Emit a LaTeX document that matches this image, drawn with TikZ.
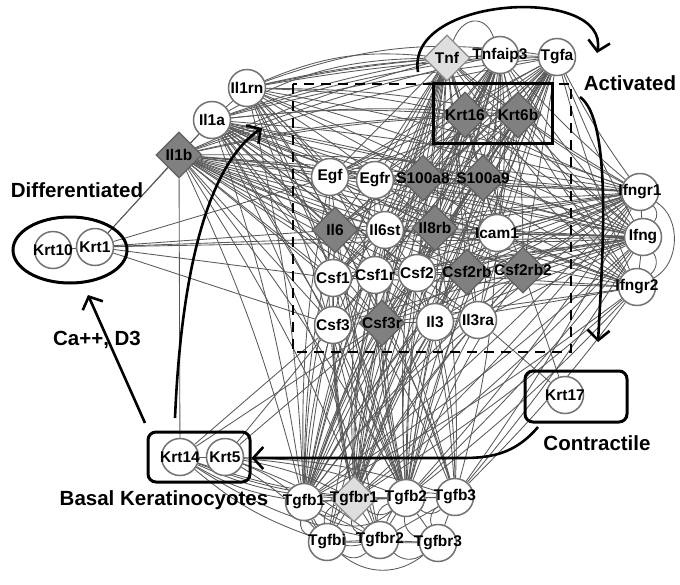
\documentclass[tikz,border=0pt]{standalone}
\usepackage{fontspec}
\setmainfont{Liberation Sans}
\usetikzlibrary{positioning, shapes.geometric, arrows.meta, backgrounds}

\tikzset{
  lbl/.style={font=\bfseries\fontsize{15.5}{15.5}\selectfont, inner sep=0pt},
  gene/.style={circle, draw=black!55, line width=1.5pt, fill=white, minimum size=37pt, inner sep=0pt, label={[lbl]center:#1}},
  dgene/.style={diamond, draw=black!62, line width=1.2pt, fill=black!50, minimum size=46pt, inner sep=0pt, label={[lbl]center:#1}},
  lgene/.style={diamond, draw=black!45, line width=1.2pt, fill=black!13, minimum size=46pt, inner sep=0pt, label={[lbl]center:#1}},
  edge/.style={draw=black!65, line width=0.85pt},
  bigtext/.style={font=\bfseries\fontsize{20.5}{22}\selectfont, inner sep=0pt},
  bigarrow/.style={line width=2.6pt, -{Straight Barb[length=10pt,width=22pt,line width=2.6pt]}},
  groupbox/.style={draw, line width=3pt, minimum width=#1}
}

\newcommand\corelist{egf,egfr,s100a8,s100a9,il6,il6st,il8rb,icam1,csf1,csf1r,csf2,csf2rb,csf2rb2,csf3,csf3r,il3,il3ra}

\begin{document}
\begin{tikzpicture}[x=1pt, y=-1pt]
\useasboundingbox (0,0) rectangle (680,584);

% top
\node[lgene=Tnf] (tnf) at (447,58) {};
\node[gene=Tnfaip3] (tnfaip3) at (500,55) {};
\node[gene=Tgfa] (tgfa) at (557,57) {};
\node[dgene=Krt16] (krt16) at (465,115) {};
\node[dgene=Krt6b] (krt6b) at (518,115) {};

% left
\node[gene=Il1rn] (il1rn) at (247,88) {};
\node[gene=Il1a] (il1a) at (212,120) {};
\node[dgene=Il1b] (il1b) at (179,155) {};

% core
\node[gene=Egf] (egf) at (330,177) {};
\node[gene=Egfr] (egfr) at (375,180) {};
\node[dgene=S100a8] (s100a8) at (423,178) {};
\node[dgene=S100a9] (s100a9) at (483,178) {};
\node[dgene=Il6] (il6) at (335,230) {};
\node[gene=Il6st] (il6st) at (385,230) {};
\node[dgene=Il8rb] (il8rb) at (435,228) {};
\node[gene=Icam1] (icam1) at (497,233) {};
\node[gene=Csf1] (csf1) at (333,278) {};
\node[gene=Csf1r] (csf1r) at (375,275) {};
\node[gene=Csf2] (csf2) at (417,273) {};
\node[dgene=Csf2rb] (csf2rb) at (467,272) {};
\node[dgene=Csf2rb2] (csf2rb2) at (523,270) {};
\node[gene=Csf3] (csf3) at (333,325) {};
\node[dgene=Csf3r] (csf3r) at (382,323) {};
\node[gene=Il3] (il3) at (435,322) {};
\node[gene=Il3ra] (il3ra) at (478,320) {};

% right
\node[gene=Ifngr1] (ifngr1) at (640,192) {};
\node[gene=Ifng] (ifng) at (643,237) {};
\node[gene=Ifngr2] (ifngr2) at (637,287) {};

% bottom
\node[gene=Tgfb1] (tgfb1) at (304,502) {};
\node[lgene=Tgfbr1] (tgfbr1) at (354,499) {};
\node[gene=Tgfb2] (tgfb2) at (406,498) {};
\node[gene=Tgfb3] (tgfb3) at (455,497) {};
\node[gene=Tgfbi] (tgfbi) at (327,542) {};
\node[gene=Tgfbr2] (tgfbr2) at (380,540) {};
\node[gene=Tgfbr3] (tgfbr3) at (438,543) {};

% keratins
\node[gene=Krt10] (krt10) at (53,250) {};
\node[gene=Krt1] (krt1) at (95,247) {};
\node[gene=Krt14] (krt14) at (180,457) {};
\node[gene=Krt5] (krt5) at (225,457) {};
\node[gene=Krt17] (krt17) at (565,395) {};

% groups
\draw[dashed, line width=1.8pt, dash pattern=on 10pt off 7pt] (293,84) rectangle (571,352);
\node[groupbox=119pt, minimum height=60pt] (actbox) at (492.5,113) {};
\node[groupbox=102pt, minimum height=50pt, rounded corners=8pt] (basbox) at (199,457) {};
\node[groupbox=102pt, minimum height=51pt, rounded corners=8pt] (conbox) at (576,396.5) {};
\node[ellipse, draw, line width=3pt, minimum width=114pt, minimum height=66pt] (difbox) at (70,250) {};

\node[bigtext] (diflabel) at (77,190) {Differentiated};
\node[bigtext] (actlabel) at (630,83) {Activated};
\node[bigtext] (calabel) at (97,340) {Ca++, D3};
\node[bigtext] (conlabel) at (597,443) {Contractile};
\node[bigtext] (baslabel) at (164,500) {Basal Keratinocyotes};

% interactions
\begin{scope}[on background layer]
  \foreach \a in {tnf,tgfa,il1b,il1a,ifng,ifngr1} {
    \foreach \b in \corelist {
      \draw[edge] (\a) -- (\b);
    }
  }
  \foreach \a in {tgfb1,tgfbr1,tgfb2,tnfaip3} {
    \foreach \b in \corelist {
      \draw[edge] (\a) to[bend left=6] (\b);
    }
  }
  \foreach \b in {egf,il6,csf1,csf2,il8rb,icam1,csf3r,il3} {
    \draw[edge] (il1rn) to[bend left=5] (\b);
    \draw[edge] (ifngr2) -- (\b);
    \draw[edge] (tgfb3) to[bend right=6] (\b);
    \draw[edge] (krt16) -- (\b);
    \draw[edge] (krt6b) -- (\b);
  }
  \foreach \a in {tnf,tgfa,tnfaip3} {
    \foreach \b in {il1rn,il1a,il1b,ifng,ifngr1,ifngr2,krt16,krt6b,tgfb1,tgfbr1,tgfb2,tgfbi} {
      \draw[edge] (\a) to[bend right=4] (\b);
    }
  }
  \foreach \a in {il1b,il1a,il1rn} {
    \foreach \b in {ifng,ifngr1,ifngr2,krt16,krt6b,tgfb1,tgfb2,tgfbr2} {
      \draw[edge] (\a) to[bend left=5] (\b);
    }
  }
  \foreach \a in {ifng,ifngr1,ifngr2} {
    \foreach \b in {tgfb1,tgfbr1,tgfb2,tgfb3,krt16,krt6b} {
      \draw[edge] (\a) to[bend left=4] (\b);
    }
  }
  \foreach \a/\b in {tnf/il1rn,tnf/il1a,tgfa/il1rn,il1b/ifng,il1a/ifngr1} {
    \draw[edge] (\a) to[bend right=14] (\b);
  }
  \foreach \a/\b in {tgfb1/tgfbr1,tgfbr1/tgfb2,tgfb2/tgfb3,tgfbi/tgfbr2,tgfbr2/tgfbr3,tgfb1/tgfbi,tgfbr1/tgfbr2,tgfb2/tgfbr3,tgfb3/tgfbr3,tgfb1/tgfbr2,tgfbr1/tgfbi,tgfb2/tgfbr2,tgfb1/tgfb2,tgfbi/tgfbr3,tgfb3/tgfbr2} {
    \draw[edge] (\a) -- (\b);
    \draw[edge] (\a) to[bend right=40] (\b);
  }
  \foreach \b in {tgfb1,tgfbr1,tgfb2,tgfb3,tgfbi,tgfbr2} {
    \draw[edge] (krt5) to[bend left=8] (\b);
    \draw[edge] (krt14) to[bend right=10] (\b);
  }
  \foreach \a/\b in {ifngr1/ifng,ifng/ifngr2,tnf/tnfaip3,tnfaip3/tgfa,krt16/krt6b,krt10/krt1,krt14/krt5,egf/egfr,il6/il6st,csf1/csf1r,csf2/csf2rb,csf2rb/csf2rb2,csf3/csf3r,il3/il3ra,csf2rb/il3ra,csf2rb2/il3ra,il1a/il1b,il1rn/il1a,s100a8/s100a9,egfr/il6st,il6st/il8rb,il8rb/icam1,csf1r/csf2,csf3r/il3,csf1/csf3,il6/csf1,csf2/il3} {
    \draw[edge] (\a) -- (\b);
  }
  \draw[edge] (ifngr1) to[bend left=60] (ifngr2);
  \draw[edge] (ifngr1) to[bend left=40] (ifng);
  \draw[edge] (ifng) to[bend left=40] (ifngr2);
  \draw[edge] (tnf) to[out=70, in=110, looseness=1.6] (tnfaip3);
  \foreach \b in {il1b,il1a,egf,il6,csf1,icam1,ifng,csf3} {
    \draw[edge] (krt1) -- (\b);
  }
  \foreach \b in {il3ra,csf2rb2} {
    \draw[edge] (krt17) -- (\b);
  }
  \foreach \b in {csf3,csf3r} {
    \draw[edge] (krt14) -- (\b);
    \draw[edge] (krt5) -- (\b);
  }
  \draw[edge] (il1b) -- (krt14);
\end{scope}

% transitions
\coordinate (actstart) at (418,72);
\coordinate (actend) at (597,53);
\draw[bigarrow] (actstart) .. controls (405,-5) and (610,-15) .. (actend);
\coordinate (downstart) at (580,97);
\coordinate (downend) at (598,342);
\draw[bigarrow] (downstart) .. controls (612,120) and (603,250) .. (downend);
\coordinate (castart) at (145,423);
\coordinate (caend) at (88,295);
\draw[bigarrow] (castart) -- (caend);
\coordinate (upstart) at (175,418);
\coordinate (upend) at (262,128);
\draw[bigarrow] (upstart) .. controls (180,300) and (200,170) .. (upend);
\coordinate (constart) at (538,427);
\coordinate (conmid) at (450,458);
\draw[bigarrow] (constart) .. controls (510,460) and (480,458) .. (conmid) -- (basbox.east |- conmid);
\end{tikzpicture}
\end{document}
